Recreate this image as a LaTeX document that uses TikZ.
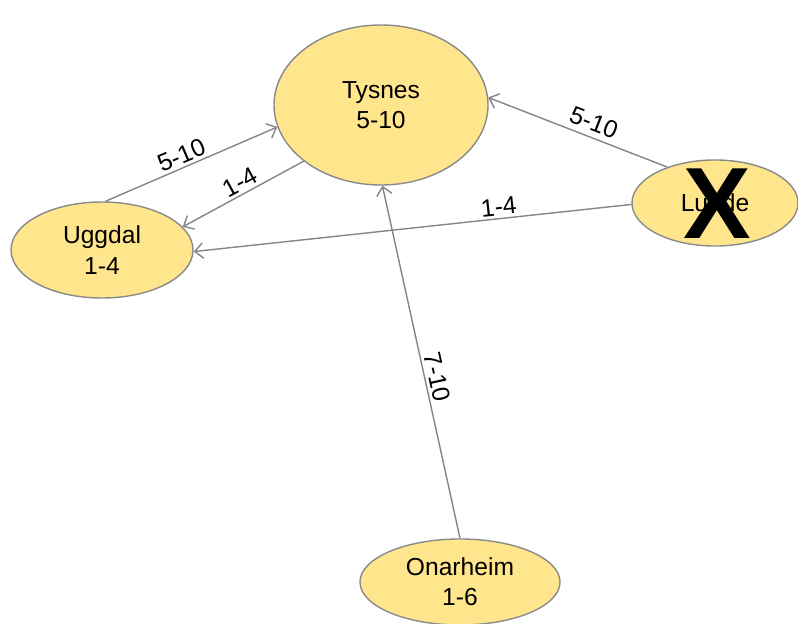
\documentclass[tikz,border=0pt]{standalone}
\usepackage{fontspec}
\setmainfont{Liberation Sans}
\usepackage{tikz}
\usetikzlibrary{arrows.meta, shapes.geometric}

\definecolor{placefill}{HTML}{FFE58C}
\definecolor{placeborder}{HTML}{8A8A8A}
\definecolor{routecol}{HTML}{858585}

\begin{document}
\begin{tikzpicture}[x=0.025cm, y=-0.025cm,
    every node/.style={align=center, font=\fontsize{17.5}{21.5}\selectfont},
    place/.style={ellipse, fill=placefill, draw=placeborder, line width=1pt, inner sep=0pt},
    route/.style={draw=routecol, line width=1pt, -{Straight Barb[length=6pt, width=11pt]}},
    lbl/.style={sloped, above, inner sep=2pt}]
      \useasboundingbox (0,0) rectangle (798,624);

      \node[place, minimum width=5.35cm, minimum height=4cm] (tysnes) at (381,105) {Tysnes\\5-10};
      \node[place, minimum width=4.55cm, minimum height=2.4cm] (uggdal) at (102,250) {Uggdal\\1-4};
      \node[place, minimum width=4.15cm, minimum height=2.15cm] (lunde) at (715,203) {Lunde};
      \node[place, minimum width=5cm, minimum height=2.15cm] (onarheim) at (460,582) {Onarheim\\1-6};
      \node[font=\fontsize{72}{72}\bfseries\selectfont, inner sep=0pt] (cross) at (717,204) {X};

      \draw[route] (uggdal.86) -- node[lbl, pos=0.47] {5-10} (tysnes.192);
      \draw[route] (tysnes.216) -- node[lbl, pos=0.48] {1-4} (uggdal.16);
      \draw[route] (lunde.143) -- node[lbl, pos=0.44, inner sep=4pt] {5-10} (tysnes.4);
      \draw[route] (lunde.181) -- node[lbl, pos=0.3] {1-4} (uggdal.359);
      \draw[route] (onarheim.90) -- node[lbl, pos=0.45] {7-10} (tysnes.271);
    \end{tikzpicture}
\end{document}
